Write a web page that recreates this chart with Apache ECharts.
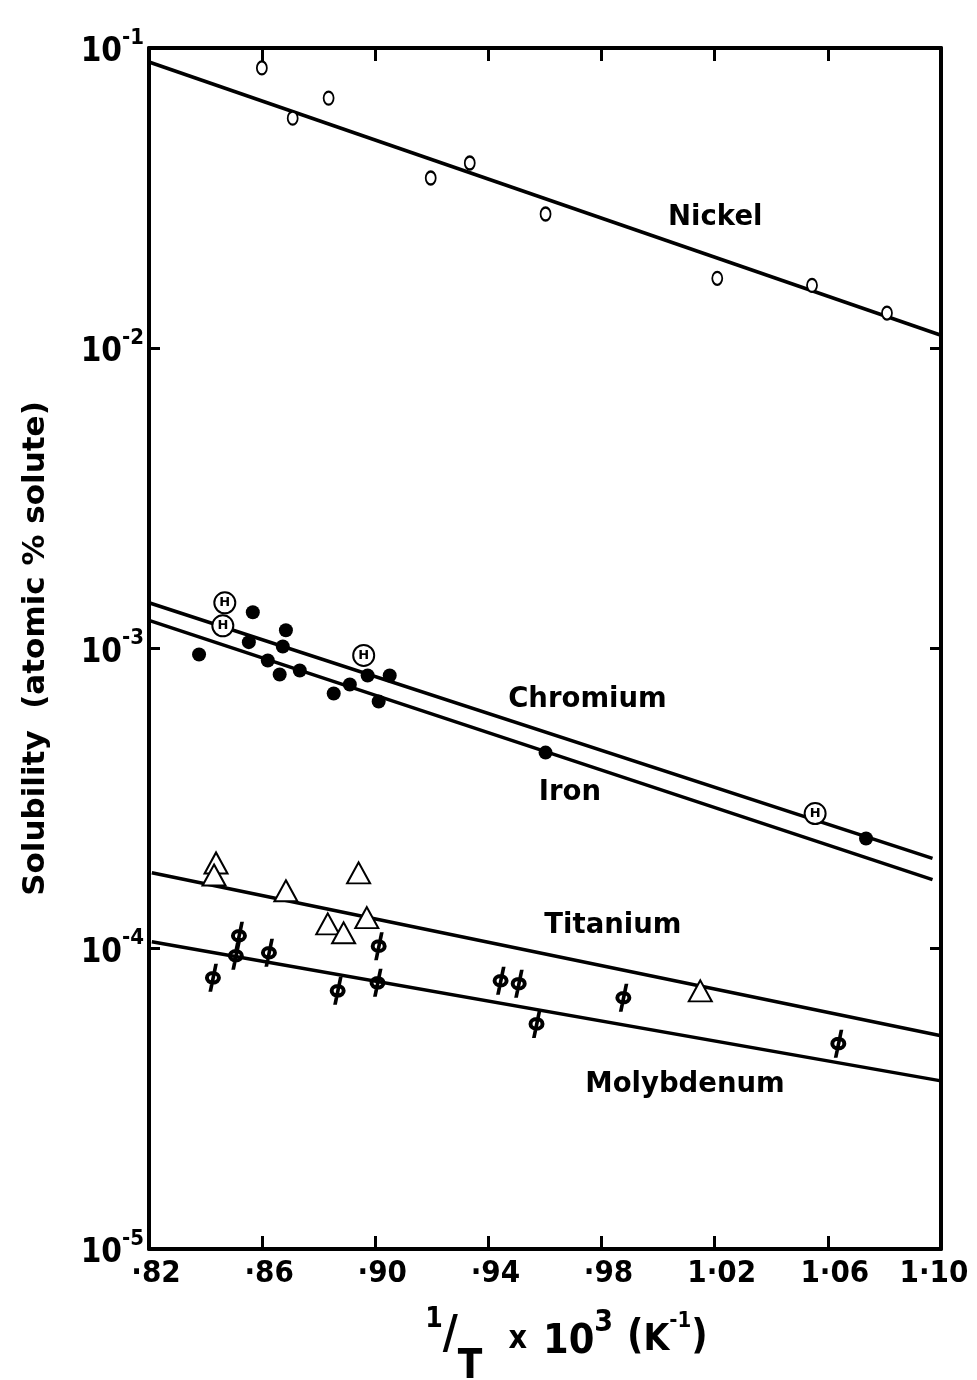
<!DOCTYPE html>
<html>
<head>
<meta charset="utf-8">
<script src="https://cdn.jsdelivr.net/npm/echarts@6/dist/echarts.min.js"></script>
<style>
html,body{margin:0;padding:0;background:#fff;}
#chart{width:977px;height:1380px;}
</style>
</head>
<body>
<div id="chart"></div>
<script>
// ---- tick labels ----
const xTicks = [0.82, 0.86, 0.90, 0.94, 0.98, 1.02, 1.06, 1.10];
const xTickLabels = ['·82', '·86', '·90', '·94', '·98', '1·02', '1·06', '1·10'];

// ---- data points (x = 1/T x 10^3, y = solubility) ----
const nickelX = [0.8599, 0.8708, 0.8835, 0.9196, 0.9334, 0.9602, 1.0209, 1.0544, 1.0809];
const nickelY = [0.0858, 0.0584, 0.0681, 0.0369, 0.0414, 0.0280, 0.0171, 0.0162, 0.0131];

const chromiumX = [0.8468, 0.8461, 0.8959, 1.0555];
const chromiumY = [1.42e-3, 1.19e-3, 9.48e-4, 2.82e-4];

const ironX = [0.8377, 0.8567, 0.8553, 0.8684, 0.8673, 0.8620, 0.8662, 0.8733, 0.8853, 0.8910, 0.8973, 0.9051, 0.9012, 0.9602, 1.0735];
const ironY = [9.55e-4, 1.32e-3, 1.05e-3, 1.15e-3, 1.016e-3, 9.12e-4, 8.19e-4, 8.45e-4, 7.08e-4, 7.59e-4, 8.13e-4, 8.13e-4, 6.66e-4, 4.50e-4, 2.33e-4];

const titaniumX = [0.8437, 0.8430, 0.8684, 0.8941, 0.8832, 0.8888, 0.8970, 1.0149];
const titaniumY = [1.93e-4, 1.76e-4, 1.56e-4, 1.79e-4, 1.21e-4, 1.13e-4, 1.27e-4, 7.24e-5];

const molyX = [0.8518, 0.8507, 0.8624, 0.8426, 0.8867, 0.9012, 0.9008, 0.9443, 0.9507, 0.9570, 0.9877, 1.0637];
const molyY = [1.105e-4, 9.48e-5, 9.70e-5, 8.0e-5, 7.24e-5, 1.02e-4, 7.7e-5, 7.82e-5, 7.65e-5, 5.62e-5, 6.87e-5, 4.83e-5];

// ---- fitted lines (end points) ----
const nickelLineX = [0.82, 1.10];
const nickelLineY = [0.0898, 0.01105];
const chromiumLineX = [0.82, 1.097];
const chromiumLineY = [1.42e-3, 2.0e-4];
const ironLineX = [0.82, 1.097];
const ironLineY = [1.24e-3, 1.70e-4];
const titaniumLineX = [0.821, 1.10];
const titaniumLineY = [1.79e-4, 5.13e-5];
const molyLineX = [0.821, 1.10];
const molyLineY = [1.055e-4, 3.63e-5];

// ---- curve labels ----
const curveNames = ['Nickel', 'Chromium', 'Iron', 'Titanium', 'Molybdenum'];
const curveLabelX = [1.0202, 0.975, 0.9688, 0.9840, 1.0095];
const curveLabelY = [0.0271, 6.76e-4, 3.31e-4, 1.19e-4, 3.52e-5];

const zip = (xs, ys) => xs.map((x, i) => [x, ys[i]]);
const FONT = 'DejaVu Sans';
const COND = 'DejaVu Sans Condensed';
const PHI = 'path://M2,15A8,6.8,0,1,1,18,15A8,6.8,0,1,1,2,15Z M6,15A4,2.8,0,1,0,14,15A4,2.8,0,1,0,6,15Z M11.3,1L15,1L9.2,29L5.5,29Z';

function lineSeries(xs, ys) {
  return {
    type: 'line', data: zip(xs, ys), symbol: 'none', silent: true, z: 2,
    lineStyle: { color: '#000', width: 3.5 }
  };
}

const chart = echarts.init(document.getElementById('chart'), null, { renderer: 'canvas' });

const axisCommon = {
  axisLine: { show: true, onZero: false, lineStyle: { color: '#000', width: 4 } },
  splitLine: { show: false },
  minorTick: { show: false }
};

const B = { fontFamily: COND, fontWeight: 'bold', color: '#000', verticalAlign: 'top', lineHeight: 10 };
const tok = (fs, pt) => Object.assign({}, B, { fontSize: fs, padding: [pt, 0, 0, 0] });
const TL = { fontFamily: COND, fontWeight: 'bold', fontSize: 31, color: '#000' };

const option = {
  backgroundColor: '#fff',
  animation: false,
  grid: { left: 149, right: 36, top: 48, bottom: 131, containLabel: false, outerBoundsMode: 'none' },
  xAxis: [
    Object.assign({}, axisCommon, {
      type: 'value', min: 0.82, max: 1.10, position: 'bottom',
      axisTick: { show: true, inside: true, length: 13, customValues: xTicks, lineStyle: { color: '#000', width: 3 } },
      axisLabel: {
        show: true, customValues: xTicks, margin: 9,
        fontFamily: COND, fontWeight: 'bold', fontSize: 31, color: '#000',
        formatter: function (v) {
          let idx = 0, best = 1e9;
          xTicks.forEach((t, i) => { const d = Math.abs(t - v); if (d < best) { best = d; idx = i; } });
          return (idx === xTicks.length - 1 ? '{r|' : '{n|') + xTickLabels[idx] + '}';
        },
        rich: {
          n: Object.assign({}, TL, { padding: [0, 0, 0, 14] }),
          r: Object.assign({}, TL, { padding: [0, 14, 0, 0] })
        }
      },
      name: '{pad|}{one|1}{sl|/}{t|T}{gap1|}{x|x}{gap2|}{n|10}{sup|3}{gap3|}{p|(}{k|K}{sup2|-1}{p|)}{lh|}',
      nameLocation: 'middle', nameGap: 51,
      nameTextStyle: {
        color: '#000',
        rich: {
          pad: { width: 44, lineHeight: 80 },
          lh: { width: 1, lineHeight: 80 },
          one: tok(28, 6),
          sl: tok(46, 13),
          t: tok(40, 48),
          gap1: { width: 26, lineHeight: 10 },
          x: tok(32, 24),
          gap2: { width: 16, lineHeight: 10 },
          n: tok(41, 22),
          sup: tok(30, 8),
          gap3: { width: 14, lineHeight: 10 },
          p: tok(40, 18),
          k: tok(37, 22),
          sup2: tok(22, 10)
        }
      }
    }),
    Object.assign({}, axisCommon, {
      type: 'value', min: 0.82, max: 1.10, position: 'top',
      axisTick: { show: true, inside: true, length: 13, customValues: xTicks, lineStyle: { color: '#000', width: 3 } },
      axisLabel: { show: false }
    })
  ],
  yAxis: [
    Object.assign({}, axisCommon, {
      type: 'log', logBase: 10, min: 1e-5, max: 1e-1, position: 'left',
      axisTick: { show: true, inside: true, length: 11, lineStyle: { color: '#000', width: 3 } },
      axisLabel: {
        show: true, margin: 5, color: '#000',
        formatter: function (v) {
          const e = Math.round(Math.log10(v));
          return '{b|10}{s|' + e + '}';
        },
        rich: {
          b: { fontSize: 33, fontFamily: COND, fontWeight: 'bold', color: '#000', verticalAlign: 'bottom', lineHeight: 42 },
          s: { fontSize: 22, fontFamily: COND, fontWeight: 'bold', color: '#000', verticalAlign: 'top', lineHeight: 24 }
        }
      },
      name: 'Solubility  (atomic % solute)',
      nameLocation: 'middle', nameGap: 98, nameRotate: 90,
      nameTextStyle: { color: '#000', fontFamily: FONT, fontWeight: 'bold', fontSize: 31 }
    }),
    Object.assign({}, axisCommon, {
      type: 'log', logBase: 10, min: 1e-5, max: 1e-1, position: 'right',
      axisTick: { show: true, inside: true, length: 11, lineStyle: { color: '#000', width: 3 } },
      axisLabel: { show: false }
    })
  ],
  series: [
    lineSeries(nickelLineX, nickelLineY),
    lineSeries(chromiumLineX, chromiumLineY),
    lineSeries(ironLineX, ironLineY),
    lineSeries(titaniumLineX, titaniumLineY),
    lineSeries(molyLineX, molyLineY),
    {
      name: 'Nickel', type: 'scatter', data: zip(nickelX, nickelY), z: 5,
      symbol: 'emptyCircle', symbolSize: [10, 13],
      itemStyle: { color: '#000', borderColor: '#000', borderWidth: 3, opacity: 1 }
    },
    {
      name: 'Iron', type: 'scatter', data: zip(ironX, ironY), z: 5,
      symbol: 'circle', symbolSize: 14,
      itemStyle: { color: '#000', opacity: 1 }
    },
    {
      name: 'Chromium', type: 'scatter', data: zip(chromiumX, chromiumY), z: 6,
      symbol: 'emptyCircle', symbolSize: 21,
      itemStyle: { color: '#000', borderColor: '#000', borderWidth: 2.2, opacity: 1 },
      label: { show: true, position: 'inside', formatter: 'H', color: '#000', fontSize: 13, fontWeight: 'bold', fontFamily: FONT }
    },
    {
      name: 'Titanium', type: 'scatter', data: zip(titaniumX, titaniumY), z: 5,
      symbol: 'emptyTriangle', symbolSize: [23, 21],
      itemStyle: { color: '#000', borderColor: '#000', borderWidth: 3.5, opacity: 1 }
    },
    {
      name: 'Molybdenum', type: 'scatter', data: zip(molyX, molyY), z: 5,
      symbol: PHI, symbolSize: [16, 28],
      itemStyle: { color: '#000', opacity: 1 }
    },
    {
      name: 'labels', type: 'scatter', silent: true, z: 7,
      data: curveNames.map((n, i) => ({ value: [curveLabelX[i], curveLabelY[i]], name: n })),
      symbolSize: 1, itemStyle: { color: 'rgba(0,0,0,0)', opacity: 1 },
      label: {
        show: true, position: 'inside', formatter: '{b}', color: '#000',
        fontFamily: FONT, fontWeight: 'bold', fontSize: 27.5
      }
    }
  ]
};
chart.setOption(option);
</script>
</body>
</html>
